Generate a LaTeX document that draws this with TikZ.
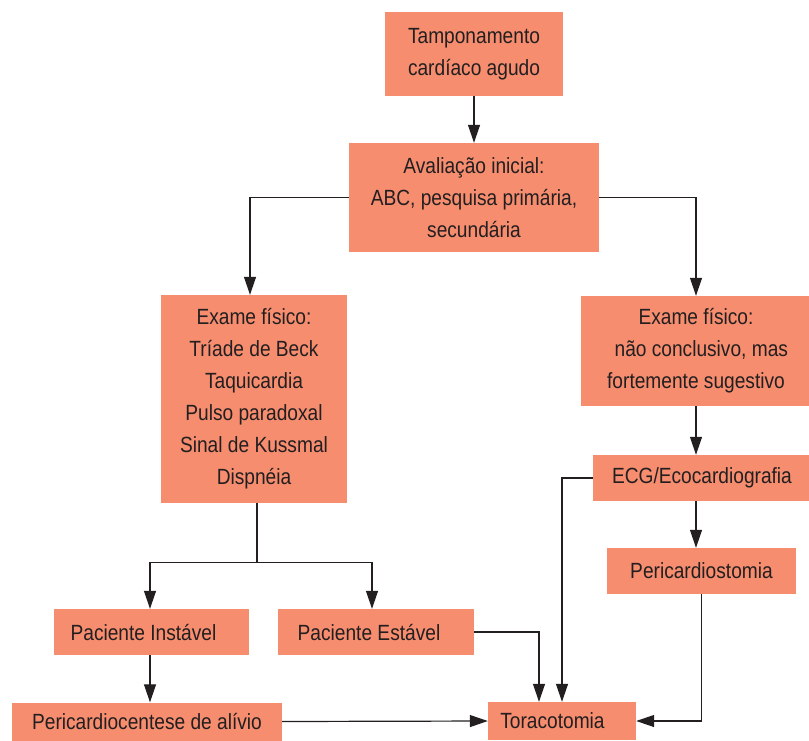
\documentclass[tikz,border=0pt]{standalone}
\usepackage{fontspec}
\setmainfont{Liberation Sans}[FakeStretch=0.87]
\usetikzlibrary{arrows.meta}

\begin{document}
\begin{tikzpicture}[x=1pt,y=-1pt,
    tamp_box/.style={shape=rectangle,fill=tamp_bgbox,inner sep=0pt,align=center,text=tamp_text,font=\fontsize{22}{32}\selectfont},
    tamp_seta/.style={draw=tamp_line,line width=1.2pt,-{Triangle[length=18pt,width=12pt]}},
    tamp_fio/.style={draw=tamp_line,line width=1.2pt}]
    \definecolor{tamp_bgbox}{RGB}{246,141,111}
    \definecolor{tamp_text}{RGB}{35,31,32}
    \definecolor{tamp_line}{RGB}{35,31,32}
    \useasboundingbox (0,0) rectangle (809,740);
    \node[tamp_box,minimum width=178pt,minimum height=84pt]  (tamp)     at (474,54)    {Tamponamento\\cardíaco agudo};
    \node[tamp_box,minimum width=250pt,minimum height=109pt] (aval)     at (474,197.5) {Avaliação inicial:\\ABC, pesquisa primária,\\secundária};
    \node[tamp_box,minimum width=186pt,minimum height=208pt] (exame_a)  at (254,399)   {Exame físico:\\Tríade de Beck\\Taquicardia\\Pulso paradoxal\\Sinal de Kussmal\\Dispnéia};
    \node[tamp_box,minimum width=230pt,minimum height=110pt] (exame_b)  at (696,351)   {Exame físico:\\\ \ não conclusivo, mas\\fortemente sugestivo};
    \node[tamp_box,minimum width=218pt,minimum height=46pt]  (ecg)      at (702,478)   {ECG/Ecocardiografia};
    \node[tamp_box,minimum width=189pt,minimum height=46pt]  (pcost)    at (701.5,571) {Pericardiostomia};
    \node[tamp_box,minimum width=195pt,minimum height=46pt]  (instavel) at (151.5,632) {Paciente Instável\hspace*{16pt}};
    \node[tamp_box,minimum width=196pt,minimum height=46pt]  (estavel)  at (376,632)   {Paciente Estável\hspace*{14pt}};
    \node[tamp_box,minimum width=270pt,minimum height=38pt]  (pcent)    at (147,721.5) {Pericardiocentese de alívio};
    \node[tamp_box,minimum width=148pt,minimum height=38pt]  (torac)    at (562,721)   {Toracotomia\hspace*{19pt}};
    \draw[tamp_seta] (tamp) -- (aval);
    \draw[tamp_seta] (aval.west) -| ([xshift=-4pt]exame_a.north);
    \draw[tamp_seta] (aval.east) -| (exame_b.north);
    \draw[tamp_seta] (exame_b.south) -- (exame_b.south |- ecg.north);
    \draw[tamp_seta] (exame_b.south |- ecg.south) -- (exame_b.south |- pcost.north);
    \draw[tamp_seta] (ecg.west) -| (torac.north);
    \draw[tamp_seta] (pcost.south) |- (torac.east);
    \draw[tamp_fio] ([xshift=3pt]exame_a.south) -- ++(0,59) coordinate (ramo);
    \draw[tamp_seta] ([xshift=-107pt]ramo) -| ([xshift=-1.5pt]instavel.north);
    \draw[tamp_fio] ([xshift=-107pt]ramo) -- ([xshift=115pt]ramo);
    \draw[tamp_seta] ([xshift=115pt]ramo) -- ([xshift=115pt]ramo |- estavel.north);
    \draw[tamp_seta] (instavel.south -| pcent.north) ++(3pt,0) -- ([xshift=3pt]pcent.north);
    \draw[tamp_seta] (estavel.east) -| ([xshift=-23pt]torac.north);
    \draw[tamp_seta] (pcent.east) -- (torac.west);
\end{tikzpicture}
\end{document}
